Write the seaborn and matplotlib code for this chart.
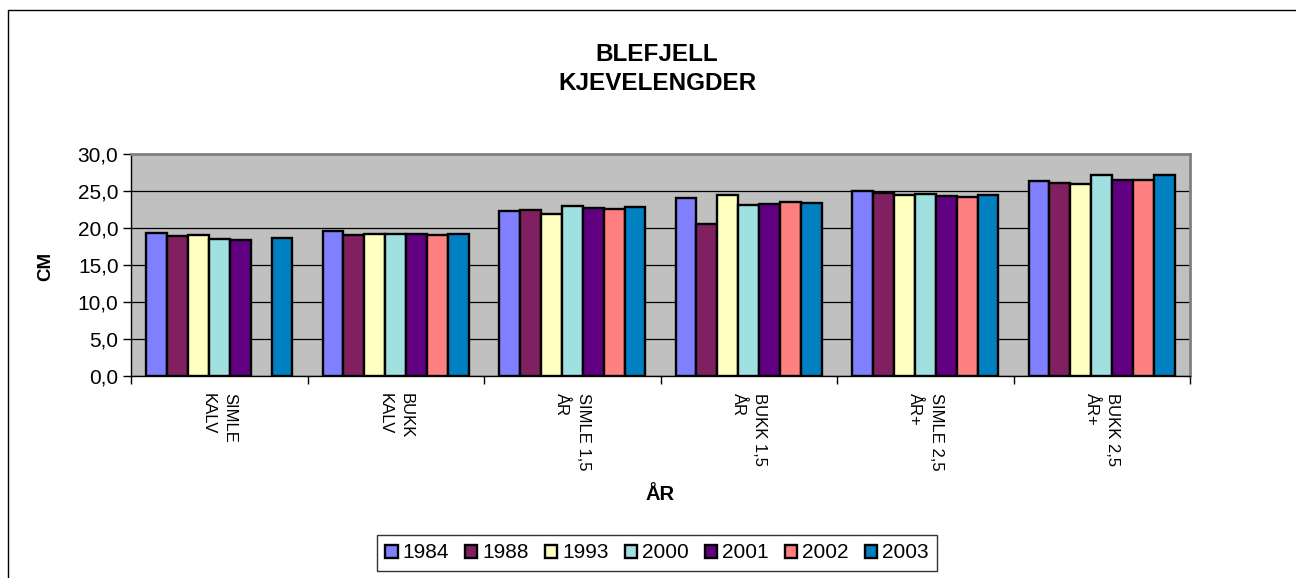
import numpy as np
import pandas as pd
import matplotlib
matplotlib.use("Agg")
import matplotlib.pyplot as plt
import seaborn as sns
from matplotlib.ticker import FuncFormatter, FixedLocator

categories = ["SIMLE\nKALV", "BUKK\nKALV", "SIMLE 1,5\nÅR", "BUKK 1,5\nÅR", "SIMLE 2,5\nÅR+", "BUKK 2,5\nÅR+"]
years = ["1984", "1988", "1993", "2000", "2001", "2002", "2003"]
v1984 = [19.3, 19.6, 22.3, 24.0, 25.0, 26.4]
v1988 = [18.9, 19.0, 22.4, 20.6, 24.7, 26.1]
v1993 = [19.0, 19.2, 21.9, 24.5, 24.4, 26.0]
v2000 = [18.5, 19.2, 23.0, 23.1, 24.6, 27.1]
v2001 = [18.4, 19.2, 22.7, 23.3, 24.3, 26.5]
v2002 = [np.nan, 19.1, 22.6, 23.5, 24.2, 26.5]
v2003 = [18.7, 19.2, 22.8, 23.4, 24.45, 27.1]
colors = ["#8080FF", "#802060", "#FFFFC0", "#A0E0E0", "#600080", "#FF8080", "#0080C0"]

series = [v1984, v1988, v1993, v2000, v2001, v2002, v2003]
rows = []
for y, vals in zip(years, series):
    for c, v in zip(categories, vals):
        rows.append({"cat": c, "year": y, "val": v})
df = pd.DataFrame(rows)

sns.set_theme(style="white")
plt.rcParams["font.family"] = ["Liberation Sans", "DejaVu Sans"]
for k in ["text.color", "axes.labelcolor", "xtick.color", "ytick.color"]:
    plt.rcParams[k] = "black"

W, H = 1296, 578
fig = plt.figure(figsize=(W / 100, H / 100), dpi=100)
fig.patch.set_facecolor("white")
ax = fig.add_axes([131 / W, 1 - 376 / H, (1190 - 131) / W, (376 - 154) / H])

sns.barplot(data=df, x="cat", y="val", hue="year", order=categories, hue_order=years,
            palette=colors, width=0.83, gap=0, edgecolor="black", linewidth=1.7,
            saturation=1, ax=ax, legend=True, zorder=3)

ax.set_facecolor("#C0C0C0")
ax.set_ylim(0, 30)
ax.set_xlim(-0.5, 5.5)
ax.set_yticks(np.arange(0, 31, 5))
ax.yaxis.set_major_formatter(FuncFormatter(lambda v, p: f"{v:.1f}".replace(".", ",")))
ax.grid(axis="y", color="black", linewidth=0.9, zorder=0)
ax.set_axisbelow(True)
for s in ["top", "right"]:
    ax.spines[s].set_color("#808080")
    ax.spines[s].set_linewidth(2)
for s in ["left", "bottom"]:
    ax.spines[s].set_color("black")
    ax.spines[s].set_linewidth(1)

ax.tick_params(axis="y", left=True, length=6, width=1, color="black", labelsize=15, pad=3, labelcolor="black")
ax.tick_params(axis="x", which="major", bottom=False, length=0, labelsize=12, pad=12, labelcolor="black")
ax.xaxis.set_minor_locator(FixedLocator(np.arange(-0.5, 6, 1)))
ax.tick_params(axis="x", which="minor", bottom=True, length=6, width=1, color="black")
for lab in ax.get_xticklabels():
    lab.set_rotation(-90)
    lab.set_va("top")
    lab.set_ha("center")
    lab.set_multialignment("left")
    lab.set_linespacing(1.55)

ax.set_xlabel("")
ax.set_ylabel("")
fig.text(46 / W, 1 - 266 / H, "CM", rotation=90, ha="center", va="center", fontsize=13.5, fontweight="bold")
fig.text(660 / W, 1 - 495 / H, "ÅR", ha="center", va="center", fontsize=14.5, fontweight="bold")
fig.text(657 / W, 1 - 69 / H, "BLEFJELL\nKJEVELENGDER", ha="center", va="center", fontsize=17.5,
         fontweight="bold", linespacing=1.3)

handles, labels = ax.get_legend_handles_labels()
ax.get_legend().remove()
leg = fig.legend(handles, labels, loc="center", bbox_to_anchor=(657 / W, 1 - 553 / H), ncol=7,
                 frameon=True, fancybox=False, edgecolor="black", fontsize=15,
                 handlelength=0.6, handleheight=0.6, handletextpad=0.25, columnspacing=0.75,
                 borderpad=0.4, borderaxespad=0)
leg.get_frame().set_linewidth(1)
for h in leg.legend_handles:
    h.set_linewidth(1.7)

# outer chart border
fig.add_artist(plt.Line2D([8 / W, 8 / W], [0, 1 - 10 / H], transform=fig.transFigure, color="black", linewidth=1))
fig.add_artist(plt.Line2D([8 / W, 1], [1 - 10 / H, 1 - 10 / H], transform=fig.transFigure, color="black", linewidth=1))

fig.savefig("out.png", dpi=100)
